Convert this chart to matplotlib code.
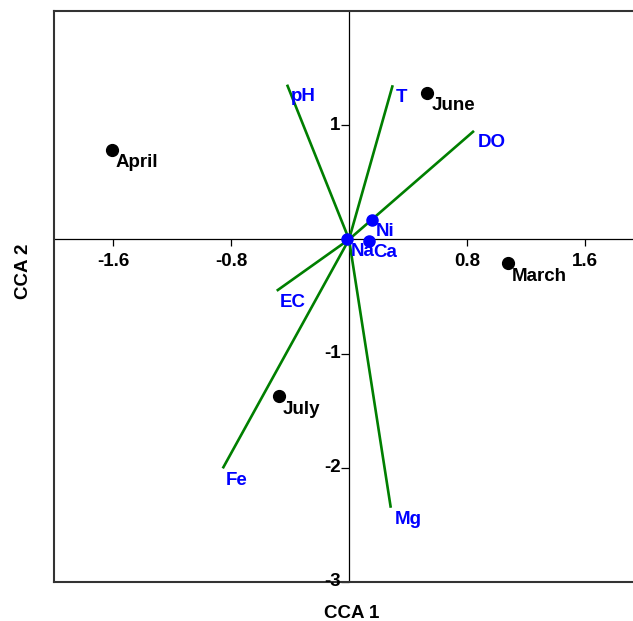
import matplotlib
matplotlib.use("Agg")
import matplotlib.pyplot as plt

plt.rcParams['font.family'] = ['Liberation Sans', 'DejaVu Sans']
plt.rcParams['font.weight'] = 'bold'

# sampling months (site scores)
sites = ['April', 'June', 'March', 'July']
site_x = [-1.61, 0.53, 1.075, -0.475]
site_y = [0.78, 1.28, -0.21, -1.375]

# environmental variables (biplot arrows)
env_vars = ['pH', 'T', 'DO', 'EC', 'Fe', 'Mg']
env_x = [-0.42, 0.296, 0.847, -0.49, -0.856, 0.283]
env_y = [1.355, 1.35, 0.95, -0.45, -2.005, -2.35]

# ions plotted as points
ions = ['Na', 'Ca', 'Ni']
ion_x = [-0.015, 0.138, 0.156]
ion_y = [0.0, -0.01, 0.17]

xticks = [-1.6, -0.8, 0.8, 1.6]
yticks = [1, -1, -2, -3]

fig = plt.figure(figsize=(6.33, 6.21), dpi=100)
ax = fig.add_axes([54 / 633, 39 / 621, 1 - 54 / 633, 571 / 621])
ax.set_xlim(-2.0, 1.925)
ax.set_ylim(-3, 2)
ax.set_xticks([])
ax.set_yticks([])
for side in ['left', 'top', 'bottom']:
    ax.spines[side].set_color('#333333')
    ax.spines[side].set_linewidth(1.5)
ax.spines['right'].set_visible(False)

# axes through the origin
ax.axhline(0, color='black', lw=0.9, zorder=1)
ax.axvline(0, color='black', lw=0.9, zorder=1)

fs = 13.5
for x in xticks:
    ax.plot(x, 0, marker=3, ms=5, color='black', mew=0.9, zorder=1)
    ax.annotate(f'{x:g}', (x, 0), xytext=(0, -10),
                textcoords='offset points', ha='center', va='top',
                fontsize=fs, fontweight='bold')
for y in yticks:
    ax.plot(0, y, marker=0, ms=6, color='black', mew=0.9, zorder=1,
            clip_on=False)
    ax.annotate(f'{y:d}', (0, y), xytext=(-6, 0),
                textcoords='offset points', ha='right', va='center',
                fontsize=fs, fontweight='bold')

# arrows for environmental variables
for name, x, y in zip(env_vars, env_x, env_y):
    ax.plot([0, x], [0, y], color='#007f00', lw=1.9, zorder=2,
            solid_capstyle='butt')
    ax.annotate(name, (x, y), xytext=(2.5, -2.5), textcoords='offset points',
                ha='left', va='top', color='#0000ff', fontsize=fs,
                fontweight='bold')

# ion points
ax.plot(ion_x, ion_y, 'o', color='#0000ff', ms=8, zorder=3)
for name, x, y in zip(ions, ion_x, ion_y):
    ax.annotate(name, (x, y), xytext=(2.5, -2.5), textcoords='offset points',
                ha='left', va='top', color='#0000ff', fontsize=fs,
                fontweight='bold')

# site points
ax.plot(site_x, site_y, 'o', color='black', ms=8.5, zorder=3)
for name, x, y in zip(sites, site_x, site_y):
    ax.annotate(name, (x, y), xytext=(3, -3), textcoords='offset points',
                ha='left', va='top', color='black', fontsize=fs,
                fontweight='bold')

fig.text(352 / 633, 1 - 613 / 621, 'CCA 1', ha='center', va='center',
         fontsize=fs, fontweight='bold')
fig.text(24 / 633, 1 - 271 / 621, 'CCA 2', ha='center', va='center',
         rotation=90, fontsize=fs, fontweight='bold')

fig.savefig('out.png', dpi=100)
